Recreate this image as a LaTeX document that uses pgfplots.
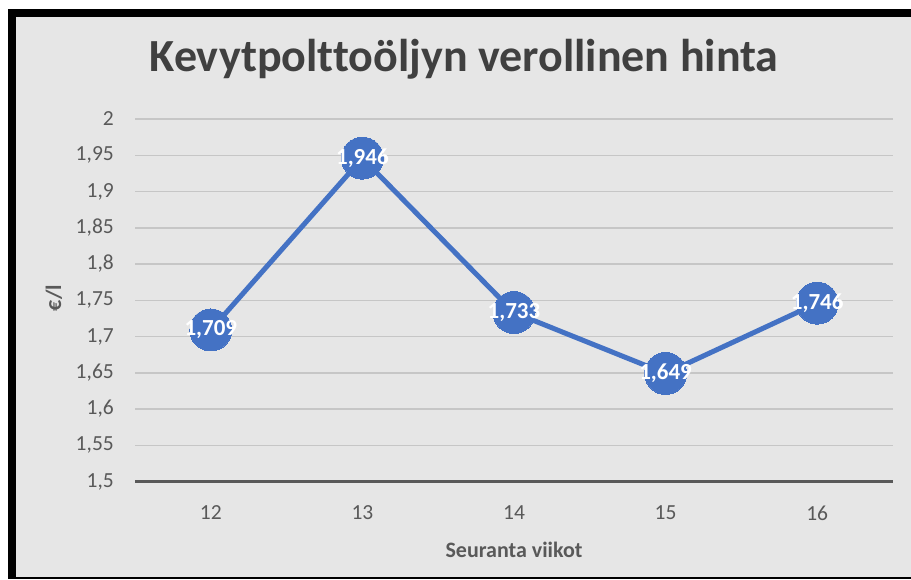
\documentclass[border=0pt]{standalone}
\usepackage{fontspec}
\setmainfont{Carlito}[Ligatures=NoCommon]
\usepackage{pgfplots}
\pgfplotsset{compat=1.18}
\definecolor{bg}{RGB}{230,230,230}
\definecolor{gridc}{RGB}{198,198,198}
\definecolor{axisc}{RGB}{89,89,89}
\definecolor{txt}{RGB}{89,89,89}
\definecolor{ttl}{RGB}{64,64,64}
\definecolor{blu}{RGB}{68,114,196}
\begin{document}
\begin{tikzpicture}[x=1pt,y=1pt]
\useasboundingbox (0,0) rectangle (911,579);
\fill[white] (0,0) rectangle (911,579);
\fill[black] (8,0) rectangle (911,570);
\fill[bg] (16,2) rectangle (911,562);
\begin{axis}[
  at={(135pt,97.5pt)}, anchor=south west,
  scale only axis, width=758pt, height=362.5pt,
  xmin=11.5, xmax=16.5, ymin=1.5, ymax=2,
  xtick={12,13,14,15,16},
  ytick={1.5,1.55,1.6,1.65,1.7,1.75,1.8,1.85,1.9,1.95,2},
  extra y ticks={1.5}, extra y tick labels={},
  extra y tick style={grid=major, grid style={line width=3pt, color=axisc}},
  ymajorgrids, grid style={line width=1.5pt, color=gridc},
  axis line style={draw=none},
  major tick length=0pt,
  /pgf/number format/use comma,
  /pgf/number format/assume math mode=true,
  tick label style={font=\fontsize{21.5}{25}\selectfont, text=txt},
  yticklabel style={inner sep=0pt, xshift=-21pt},
  xticklabel style={inner sep=0pt, yshift=-24pt},
  clip=false,
]
\addplot[blu, line width=5pt, mark=*, mark size=21pt, mark options={fill=blu, draw=blu, line width=0pt},
  nodes near coords={\pgfmathprintnumber[precision=3,use comma,assume math mode=true]{\pgfplotspointmeta}},
  nodes near coords align={center},
  every node near coord/.append style={anchor=center, text=white, font=\fontsize{23}{27}\selectfont\bfseries, inner sep=0pt}]
coordinates {(12,1.709) (13,1.946) (14,1.733) (15,1.649) (16,1.746)};
\end{axis}
\node[anchor=base, font=\fontsize{46}{54}\selectfont\bfseries, text=ttl, inner sep=0pt] at (464,507) {Kevytpolttoöljyn verollinen hinta};
\node[anchor=base, font=\fontsize{22}{26}\selectfont\bfseries, text=txt, inner sep=0pt] at (514,22) {Seuranta viikot};
\node[anchor=base, rotate=90, font=\fontsize{22}{26}\selectfont\bfseries, text=txt, inner sep=0pt] at (61,281) {€/l};
\end{tikzpicture}
\end{document}
